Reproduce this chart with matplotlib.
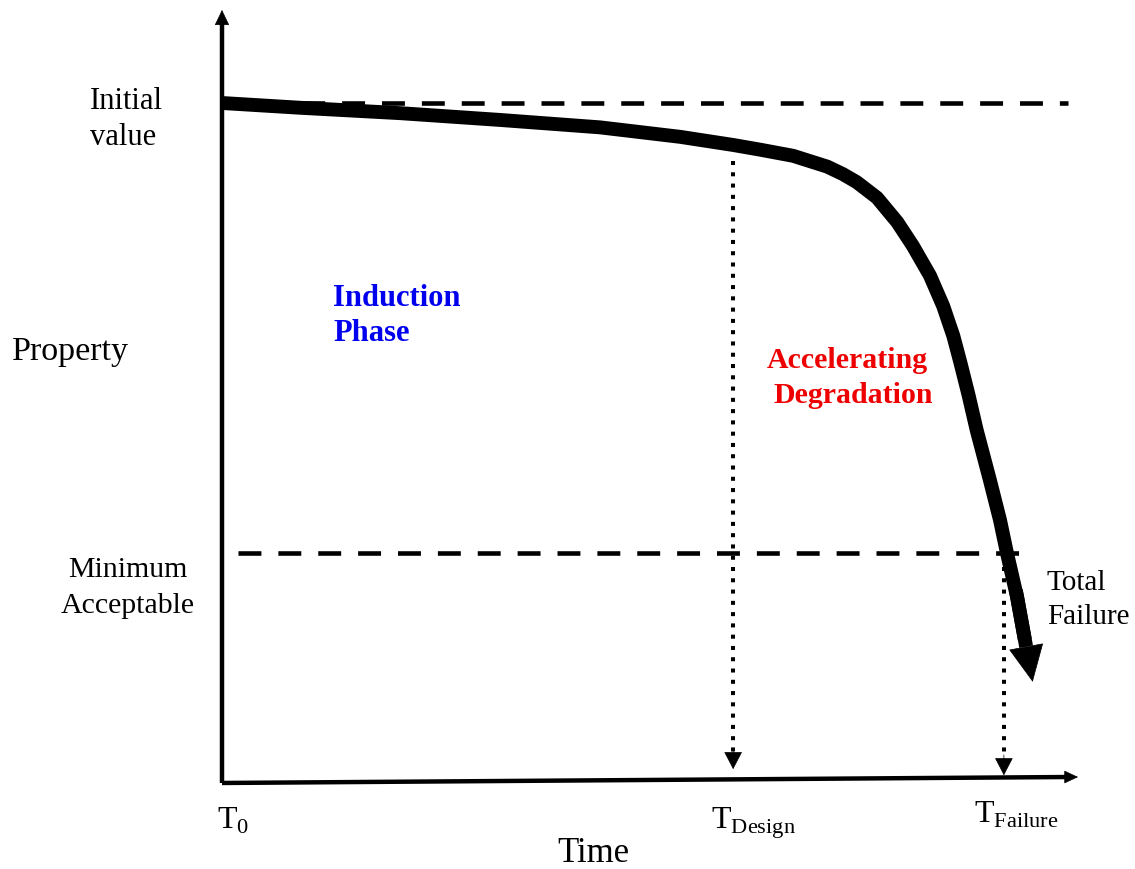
import matplotlib
matplotlib.use("Agg")
from matplotlib import pyplot as plt

plt.rcParams['font.family'] = ['Liberation Serif', 'DejaVu Serif']
plt.rcParams['mathtext.fontset'] = 'custom'
plt.rcParams['mathtext.rm'] = 'Liberation Serif'

# degradation curve (time, property), property 1 = initial value
time = [0.000, 0.100, 0.229, 0.357, 0.486, 0.589, 0.657, 0.692, 0.734, 0.756,
        0.778, 0.798, 0.816, 0.842, 0.868, 0.888, 0.910, 0.927, 0.940, 0.949,
        0.9595, 0.970, 0.987, 1.000, 1.009, 1.022, 1.032]
prop = [1.000, 0.993, 0.985, 0.975, 0.964, 0.950, 0.938, 0.931, 0.922, 0.914,
        0.906, 0.895, 0.883, 0.860, 0.824, 0.789, 0.745, 0.700, 0.656, 0.617,
        0.569, 0.517, 0.443, 0.384, 0.335, 0.270, 0.207]
tip = (1.042, 0.145)

initial_value = 1.0
minimum_acceptable = 0.335
t_design = 0.657
t_failure = 1.005

X0, Y0, SX, SY = 222, 780, 778, 677  # pixel frame of the drawing


def px(x, y):
    return (x - X0) / SX, (Y0 - y) / SY


fig = plt.figure(figsize=(11.35, 8.69), dpi=100)
ax = fig.add_axes([0, 0, 1, 1])
ax.set_xlim(px(0, 0)[0], px(1135, 0)[0])
ax.set_ylim(px(0, 869)[1], px(0, 0)[1])
ax.axis('off')


def head(xy, frm, hl, hw, ms=10):
    ax.annotate('', xy=xy, xytext=frm,
                arrowprops=dict(arrowstyle='-|>,head_length=%s,head_width=%s' % (hl, hw),
                                lw=0.5, color='k', mutation_scale=ms,
                                shrinkA=0, shrinkB=0))


# axes with arrows
ax.plot([0, 0], [-0.0044, 1.12], color='k', lw=3.2, solid_capstyle='butt')
head((0, 1.1374), (0, 1.10), 1.0, 0.48)
ax.plot([0, 1.085], [-0.0044, 0.0044], color='k', lw=3.2, solid_capstyle='butt')
head((1.1003, 0.0044), (1.07, 0.0044), 0.9, 0.42)

# dashed reference levels
ax.plot([0, 1.088], [initial_value, initial_value], color='k', lw=3.3,
        linestyle=(0, (5.0, 3.7)))
ax.plot([0.02, 1.042], [minimum_acceptable, minimum_acceptable], color='k', lw=3.3,
        linestyle=(0, (5.0, 3.7)))

# dotted drops
for t, top, bot in [(t_design, 0.915, 0.016), (t_failure, 0.315, 0.007)]:
    ax.plot([t, t], [top, bot + 0.02], color='k', lw=2.9, linestyle=(0, (1, 1.8)))
    head((t, bot), (t, bot + 0.03), 1.15, 0.6)

# curve
ax.plot(time, prop, color='k', lw=10, solid_capstyle='butt', solid_joinstyle='round')
ax.plot(time[-2:], prop[-2:], color='k', lw=10, solid_capstyle='projecting')
head(tip, (time[-1], prop[-1]), 2.5, 1.2)

# labels
def label(x, y, s, **kw):
    ax.text(*px(x, y), s, va='baseline', **kw)


label(90, 109, 'Initial', fontsize=22)
label(90, 145, 'value', fontsize=22)
label(128, 577, 'Minimum', fontsize=21.5, ha='center')
label(128, 613, 'Acceptable', fontsize=21.5, ha='center')
label(12, 360, 'Property', fontsize=24.5)
label(593, 862, 'Time', fontsize=25, ha='center')
label(1047, 590, 'Total', fontsize=21)
label(1047, 624, 'Failure', fontsize=21)
label(333, 306, 'Induction', fontsize=22, fontweight='bold', color='#0000ee')
label(333, 341, 'Phase', fontsize=22, fontweight='bold', color='#0000ee')
label(847, 368, 'Accelerating', fontsize=21.5, fontweight='bold', color='#ee0000', ha='center')
label(853, 403, 'Degradation', fontsize=21.5, fontweight='bold', color='#ee0000', ha='center')
label(217, 829, r'T$_0$', fontsize=23)
label(711, 829, r'T$_{\mathrm{Design}}$', fontsize=23)
label(974, 823, r'T$_{\mathrm{Failure}}$', fontsize=23)

plt.savefig('out.png', dpi=100)
